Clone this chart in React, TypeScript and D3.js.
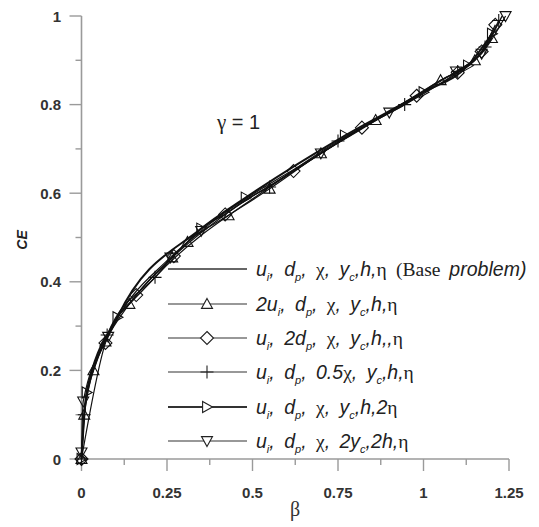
import React from "react";
import * as d3 from "d3";

const W = 539;
const H = 527;

// axis ticks
const xTickValues = [0, 0.25, 0.5, 0.75, 1, 1.25];
const xMinorValues = [0.125, 0.375, 0.625, 0.875, 1.125];
const yTickValues = [0, 0.2, 0.4, 0.6, 0.8, 1];
const yMinorValues = [0.1, 0.3, 0.5, 0.7, 0.9];

// base problem (no markers)
const baseBeta = [0, 0.004, 0.008, 0.015, 0.035, 0.07, 0.1, 0.14, 0.215, 0.265, 0.31, 0.35, 0.425, 0.48, 0.55, 0.62, 0.7, 0.77, 0.86, 0.945, 1.04, 1.1, 1.15, 1.19, 1.21, 1.23];
const baseCE = [0, 0.05, 0.1, 0.15, 0.2, 0.27, 0.315, 0.35, 0.41, 0.455, 0.49, 0.52, 0.555, 0.585, 0.615, 0.65, 0.69, 0.725, 0.765, 0.8, 0.85, 0.875, 0.9, 0.94, 0.97, 1.0];

// 2u_i (triangles)
const triBeta = [0, 0.008, 0.035, 0.07, 0.14, 0.265, 0.31, 0.43, 0.55, 0.7, 0.86, 1.05, 1.15, 1.2];
const triCE = [0, 0.1, 0.2, 0.265, 0.35, 0.455, 0.49, 0.55, 0.61, 0.69, 0.765, 0.855, 0.9, 0.95];

// 2d_p (diamonds)
const diaBeta = [0, 0.07, 0.16, 0.27, 0.42, 0.62, 0.82, 0.98, 1.1, 1.17, 1.21];
const diaCE = [0, 0.262, 0.37, 0.458, 0.552, 0.65, 0.748, 0.82, 0.872, 0.92, 0.98];

// 0.5 chi (plus)
const plusBeta = [0, 0.008, 0.075, 0.215, 0.55, 0.75, 0.945, 1.1, 1.18, 1.22];
const plusCE = [0, 0.1, 0.28, 0.41, 0.614, 0.718, 0.8, 0.875, 0.93, 0.99];

// 2 eta (right triangles)
const rtBeta = [0, 0.015, 0.105, 0.35, 0.48, 0.77, 1.0, 1.13, 1.2];
const rtCE = [0, 0.15, 0.32, 0.52, 0.59, 0.73, 0.828, 0.888, 0.96];

// 2y_c, 2h (down triangles)
const dtBeta = [0, 0.005, 0.078, 0.26, 0.35, 0.7, 0.9, 1.095, 1.17, 1.24];
const dtCE = [0.015, 0.13, 0.276, 0.455, 0.515, 0.69, 0.782, 0.875, 0.915, 1.0];

const legendLabels = [
  "u_i, d_p, χ, y_c,h,η {(Base }problem)",
  "2u_i, d_p, χ, y_c,h,η",
  "u_i, 2d_p, χ, y_c,h,,η",
  "u_i, d_p, 0.5χ, y_c,h,η",
  "u_i, d_p, χ, y_c,h,2η",
  "u_i, d_p, χ, 2y_c,2h,η",
];

type Marker = "none" | "up" | "diamond" | "plus" | "right" | "down";

const series: { beta: number[]; ce: number[]; marker: Marker; width: number }[] = [
  { beta: baseBeta, ce: baseCE, marker: "none", width: 1.4 },
  { beta: triBeta, ce: triCE, marker: "up", width: 1.2 },
  { beta: diaBeta, ce: diaCE, marker: "diamond", width: 1.2 },
  { beta: plusBeta, ce: plusCE, marker: "plus", width: 1.2 },
  { beta: rtBeta, ce: rtCE, marker: "right", width: 2 },
  { beta: dtBeta, ce: dtCE, marker: "down", width: 1.2 },
];

const x = d3.scaleLinear().domain([0, 1.25]).range([81.5, 509]);
const y = d3.scaleLinear().domain([0, 1]).range([459, 16]);

function markerPath(m: Marker, cx: number, cy: number) {
  const r = 5.5;
  switch (m) {
    case "up":
      return `M${cx},${cy - r}L${cx + r},${cy + r * 0.8}L${cx - r},${cy + r * 0.8}Z`;
    case "down":
      return `M${cx},${cy + r}L${cx + r},${cy - r * 0.8}L${cx - r},${cy - r * 0.8}Z`;
    case "right":
      return `M${cx + r},${cy}L${cx - r * 0.8},${cy - r}L${cx - r * 0.8},${cy + r}Z`;
    case "diamond":
      return `M${cx},${cy - r - 1}L${cx + r + 1},${cy}L${cx},${cy + r + 1}L${cx - r - 1},${cy}Z`;
    case "plus":
      return `M${cx - r - 1},${cy}H${cx + r + 1}M${cx},${cy - r - 1}V${cy + r + 1}`;
    default:
      return "";
  }
}

const serif = "'Liberation Serif', 'Times New Roman', serif";
const sans = "'Liberation Sans', Arial, Helvetica, sans-serif";

// "_x" = subscript, {..} = roman serif, greek letters = serif
function renderLabel(s: string) {
  const parts: JSX.Element[] = [];
  let i = 0;
  let k = 0;
  let roman = false;
  let back = 0;
  while (i < s.length) {
    const c = s[i];
    if (c === "{") { roman = true; i++; continue; }
    if (c === "}") { roman = false; i++; continue; }
    if (c === "_") {
      parts.push(<tspan key={k++} dy={5} fontSize={11}>{s[i + 1]}</tspan>);
      back = -5;
      i += 2;
      continue;
    }
    const greek = "χηγβ".includes(c);
    const dy = back || undefined;
    back = 0;
    if (greek || roman) {
      parts.push(
        <tspan key={k++} dy={dy} fontFamily={serif} fontStyle="normal">{c}</tspan>
      );
    } else {
      parts.push(<tspan key={k++} dy={dy}>{c}</tspan>);
    }
    i++;
  }
  return parts;
}

export default function App() {
  const lineGen = d3
    .line<[number, number]>()
    .x((d) => x(d[0]))
    .y((d) => y(d[1]))
    .curve(d3.curveMonotoneX);

  const legendY = [269, 304, 338, 372, 407, 441];
  const axisColor = "#9a9a9a";

  return (
    <svg width={W} height={H} style={{ position: "absolute", left: 0, top: 0 }}>
      <rect width={W} height={H} fill="#fff" />
      {/* axes */}
      <line x1={x(0)} x2={x(0)} y1={y(1)} y2={y(0)} stroke={axisColor} strokeWidth={1.6} />
      <line x1={x(0)} x2={x(1.25)} y1={y(0)} y2={y(0)} stroke={axisColor} strokeWidth={1.6} />
      {yTickValues.map((v) => (
        <g key={"yt" + v}>
          <line x1={x(0) - 12} x2={x(0)} y1={y(v)} y2={y(v)} stroke={axisColor} strokeWidth={1.4} />
          <text x={61} y={y(v) + 5.5} textAnchor="end" fontFamily={sans} fontWeight="bold" fontSize={15} fill="#333">
            {d3.format("~g")(v)}
          </text>
        </g>
      ))}
      {yMinorValues.map((v) => (
        <line key={"ym" + v} x1={x(0) - 6} x2={x(0)} y1={y(v)} y2={y(v)} stroke={axisColor} strokeWidth={1.4} />
      ))}
      {xTickValues.map((v) => (
        <g key={"xt" + v}>
          <line x1={x(v)} x2={x(v)} y1={y(0)} y2={y(0) + 12} stroke={axisColor} strokeWidth={1.4} />
          <text x={x(v)} y={498} textAnchor="middle" fontFamily={sans} fontWeight="bold" fontSize={15} fill="#333">
            {d3.format("~g")(v)}
          </text>
        </g>
      ))}
      {xMinorValues.map((v) => (
        <line key={"xm" + v} x1={x(v)} x2={x(v)} y1={y(0)} y2={y(0) + 6} stroke={axisColor} strokeWidth={1.4} />
      ))}
      <text x={295} y={516} textAnchor="middle" fontFamily={serif} fontSize={20} fill="#333">
        β
      </text>
      <text transform="translate(27,240) rotate(-90)" textAnchor="middle" fontFamily={sans} fontWeight="bold" fontStyle="italic" fontSize={14} fill="#222">
        CE
      </text>
      <text x={217} y={129} fontFamily={sans} fontSize={20} fill="#222">
        <tspan fontFamily={serif} fontSize={21}>γ</tspan> = 1
      </text>

      {/* curves */}
      {series.map((s, i) => (
        <path
          key={"l" + i}
          d={lineGen(s.beta.map((b, j) => [b, s.ce[j]] as [number, number])) || ""}
          fill="none"
          stroke="#111"
          strokeWidth={s.width}
        />
      ))}
      {series.map((s, i) =>
        s.beta.map((b, j) => (
          <path key={"m" + i + "-" + j} d={markerPath(s.marker, x(b), y(s.ce[j]))} fill="none" stroke="#111" strokeWidth={1.1} />
        ))
      )}

      {/* legend */}
      {series.map((s, i) => (
        <g key={"lg" + i}>
          <line x1={168} x2={247} y1={legendY[i]} y2={legendY[i]} stroke="#333" strokeWidth={s.width} />
          <path d={markerPath(s.marker, 207, legendY[i])} fill="#fff" stroke="#222" strokeWidth={1.1} />
          <text x={256} y={legendY[i] + 7} fontFamily={sans} fontStyle="italic" fontSize={19.5} wordSpacing={4} fill="#222">
            {renderLabel(legendLabels[i])}
          </text>
        </g>
      ))}
    </svg>
  );
}
